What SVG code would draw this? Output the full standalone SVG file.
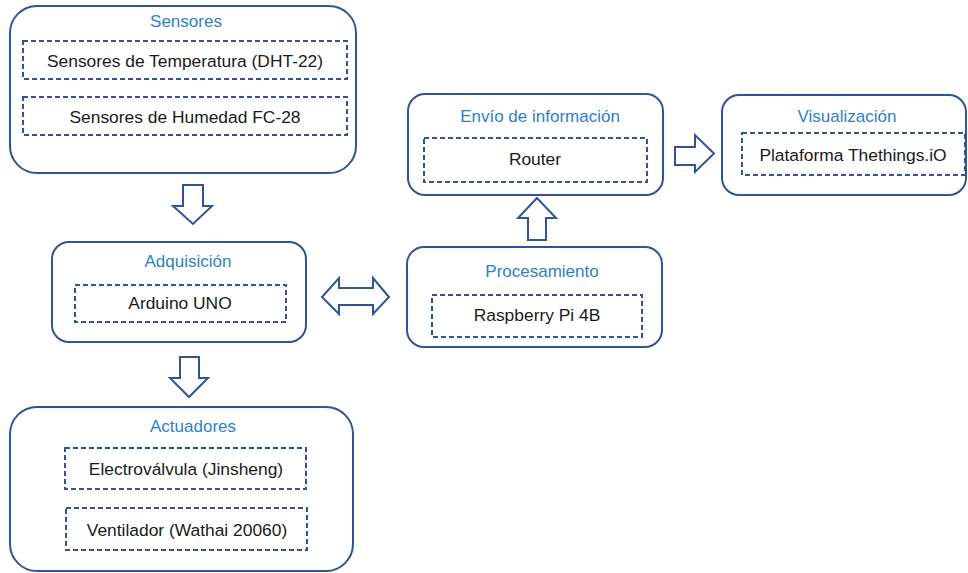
<svg xmlns="http://www.w3.org/2000/svg" width="968" height="573" viewBox="0 0 968 573">
<style>
.box{fill:#fff;stroke:#2F5597;stroke-width:2}
.dash{fill:none;stroke:#2F5597;stroke-width:2;stroke-dasharray:5 3}
.arrow{fill:#fff;stroke:#2F5597;stroke-width:2;stroke-linejoin:miter}
.title{font-family:"Liberation Sans",Arial,sans-serif;font-size:17px;fill:#2E80C8;text-anchor:middle}
.label{font-family:"Liberation Sans",Arial,sans-serif;font-size:17.4px;fill:#1a1a1a;text-anchor:middle}
</style>
<rect width="968" height="573" fill="#fff"/>
<g id="connectors">
<path class="arrow" d="M183,185 H203 V206 H212 L193,224 L173,206 H183 Z"/>
<path class="arrow" d="M180,357 H199 V378 H208 L189,397 L170,378 H180 Z"/>
<path class="arrow" d="M322,297 L339,278 V288 H373 V278 L389,297 L373,314 V305 H339 V314 Z"/>
<path class="arrow" d="M528,240 V218 H518 L537,198 L556,218 H546 V240 Z"/>
<path class="arrow" d="M675,147 H695 V135 L714,153.5 L695,172 V165 H675 Z"/>
</g>
<g id="sensores">
<rect class="box" x="10" y="6" width="346" height="167" rx="27"/>
<text class="title" x="186" y="27">Sensores</text>
<rect class="dash" x="23" y="41" width="324" height="38"/>
<text class="label" x="185" y="67">Sensores de Temperatura (DHT-22)</text>
<rect class="dash" x="23" y="97" width="324" height="38"/>
<text class="label" x="185" y="123">Sensores de Humedad FC-28</text>
</g>
<g id="adquisicion">
<rect class="box" x="52" y="242" width="254" height="100" rx="17"/>
<text class="title" x="188" y="267">Adquisición</text>
<rect class="dash" x="75" y="285" width="211" height="37"/>
<text class="label" x="180" y="309">Arduino UNO</text>
</g>
<g id="actuadores">
<rect class="box" x="10" y="407" width="343" height="164" rx="27"/>
<text class="title" x="193" y="432">Actuadores</text>
<rect class="dash" x="65" y="448" width="241" height="41"/>
<text class="label" x="186" y="475">Electroválvula (Jinsheng)</text>
<rect class="dash" x="66" y="508" width="241" height="42"/>
<text class="label" x="187" y="536">Ventilador (Wathai 20060)</text>
</g>
<g id="procesamiento">
<rect class="box" x="407" y="247" width="255" height="100" rx="17"/>
<text class="title" x="542" y="277">Procesamiento</text>
<rect class="dash" x="432" y="295" width="210" height="42"/>
<text class="label" x="537" y="321">Raspberry Pi 4B</text>
</g>
<g id="envio">
<rect class="box" x="408" y="94" width="255" height="101" rx="17"/>
<text class="title" x="540" y="122">Envío de información</text>
<rect class="dash" x="424" y="138" width="223" height="44"/>
<text class="label" x="535" y="165">Router</text>
</g>
<g id="visualizacion">
<rect class="box" x="722" y="95" width="244" height="100" rx="17"/>
<text class="title" x="847" y="122">Visualización</text>
<rect class="dash" x="742" y="133" width="223" height="42"/>
<text class="label" x="853" y="161">Plataforma Thethings.iO</text>
</g>
</svg>
